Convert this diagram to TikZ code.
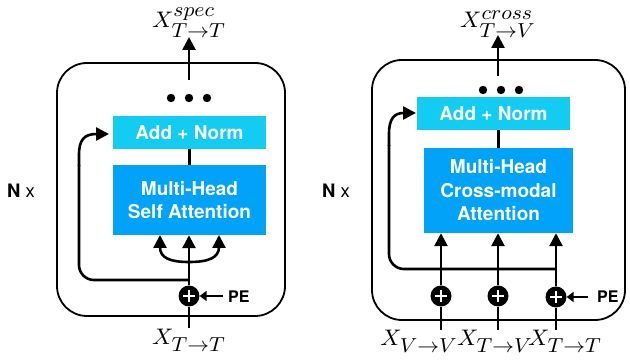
\documentclass[tikz,border=0pt]{standalone}
\usepackage{fontspec}
\setsansfont{TeX Gyre Heros}
\usetikzlibrary{arrows.meta}
\DeclareMathSizes{10}{10}{9}{7}
\definecolor{addc}{RGB}{18,204,242}
\definecolor{mhc}{RGB}{0,163,247}
\newcommand{\boxfont}{\sffamily\bfseries\fontsize{19}{23.5}\selectfont}
\begin{document}
\begin{tikzpicture}[x=1pt,y=-1pt,
  outerbox/.style={draw, line width=1.8pt, rounded corners=30pt, inner sep=0pt},
  addbox/.style={fill=addc, text=white, font=\boxfont, inner sep=0pt, minimum height=33pt},
  mhbox/.style={fill=mhc, text=white, font=\boxfont, align=center, inner sep=0pt},
  plusc/.style={circle, fill=black, minimum size=21pt, inner sep=0pt},
  wire/.style={line width=2.6pt},
  arr/.style={line width=2.6pt, -{Triangle[length=13pt,width=13pt]}},
  darr/.style={line width=2.6pt, {Triangle[length=13pt,width=13pt]}-{Triangle[length=13pt,width=13pt]}},
  pearr/.style={line width=2.2pt, -{Triangle[length=7pt,width=10pt]}},
  lbl/.style={font=\sffamily\bfseries\fontsize{16}{18}\selectfont, inner sep=0pt, anchor=base west},
  nlbl/.style={font=\sffamily\fontsize{18.5}{20}\selectfont, inner sep=0pt, anchor=base west},
  mlbl/.style={font=\fontsize{10}{12}\selectfont, inner sep=0pt, anchor=base, xscale=2.35, yscale=2.25, transform shape}
]
\useasboundingbox (0,0) rectangle (630,363);

% ---------------- left panel ----------------
\node[outerbox, minimum width=228pt, minimum height=253pt] (Lbox) at (171,189.5) {};
\node[addbox, minimum width=153pt] (Ladd) at (189.5,132.5) {Add + Norm};
\node[mhbox, minimum width=153pt, minimum height=70pt] (Lmh) at (189.5,200) {Multi-Head\\Self Attention};
\node[plusc] (Lp) at (189,296) {};
\draw[white, line width=2.4pt] (183,296) -- (195,296) (189,290) -- (189,302);
\node[nlbl] (LN) at (7,198) {\textbf{N} x};
\node[mlbl] (Lout) at (189,28) {$X^{spec}_{T\rightarrow T}$};
\node[mlbl] (Lin) at (189,345) {$X_{T\rightarrow T}$};
\node[lbl] (LPE) at (228,303) {PE};
\coordinate (Linb) at (189,328);
\coordinate (Lr) at (189,280);
\coordinate (Lbr) at (189,262);
\coordinate (Lk) at (160,235);
\coordinate (Lv) at (219,235);
\coordinate (Lres) at (109,134);
\coordinate (Lo1) at (189,80);
\coordinate (Lo2) at (189,37);
\coordinate (Lpe1) at (223,296);
\foreach \x in {171,189,207} \fill (\x,98) circle (4.2pt);
\draw[wire] (Linb) -- (Lp.south);
\draw[arr] (Lp.north) -- (Lp.north |- Lmh.south);
\draw[darr] (Lk) -- (160,247) .. controls (160,258) and (170,262) .. (Lbr)
  .. controls (208,262) and (219,258) .. (219,247) -- (Lv);
\draw[wire, rounded corners=15pt] (Lr) -- (79,280) -- (79,165);
\draw[arr] (79,166) -- (79,155) .. controls (79,140) and (84,134) .. (Lres);
\draw[wire] (Ladd.south) -- (Ladd.south |- Lmh.north);
\draw[arr] (Lo1) -- (Lo2);
\draw[pearr] (Lpe1) -- (Lp.east);

% ---------------- right panel ----------------
\node[outerbox, minimum width=253pt, minimum height=260pt] (Rbox) at (498.5,190) {};
\node[addbox, minimum width=153pt] (Radd) at (493.5,113.5) {Add + Norm};
\node[mhbox, minimum width=149pt, minimum height=85pt] (Rmh) at (498.5,190.5) {Multi-Head\\Cross-modal\\Attention};
\node[plusc] (Rp1) at (441,296) {};
\node[plusc] (Rp2) at (498,296) {};
\node[plusc] (Rp3) at (556,297) {};
\foreach \x/\y in {441/296,498/296,556/297}
  \draw[white, line width=2.4pt] (\x-6,\y) -- (\x+6,\y) (\x,\y-6) -- (\x,\y+6);
\node[nlbl] (RN) at (322,198) {\textbf{N} x};
\node[mlbl] (Rout) at (498,28) {$X^{cross}_{T\rightarrow V}$};
\node[mlbl] (Rin1) at (419,346) {$X_{V\rightarrow V}$};
\node[mlbl] (Rin2) at (495,346) {$X_{T\rightarrow V}$};
\node[mlbl] (Rin3) at (565,346) {$X_{T\rightarrow T}$};
\node[lbl] (RPE) at (597,303) {PE};
\coordinate (Ri1) at (441,330);
\coordinate (Ri2) at (498,330);
\coordinate (Ri3) at (556,330);
\coordinate (Rr) at (556,269);
\coordinate (Rres) at (416,113);
\coordinate (Ro1) at (498,76);
\coordinate (Ro2) at (498,35);
\coordinate (Rpe1) at (588,297);
\foreach \x in {483,501,519} \fill (\x,90) circle (4.2pt);
\draw[wire] (Ri1) -- (Rp1.south);
\draw[wire] (Ri2) -- (Rp2.south);
\draw[wire] (Ri3) -- (Rp3.south);
\draw[arr] (Rp1.north) -- (Rp1.north |- Rmh.south);
\draw[arr] (Rp2.north) -- (Rp2.north |- Rmh.south);
\draw[arr] (Rp3.north) -- (Rp3.north |- Rmh.south);
\draw[wire, rounded corners=15pt] (Rr) -- (389,269) -- (389,145);
\draw[arr] (389,146) -- (389,134) .. controls (389,119) and (394,113) .. (Rres);
\draw[wire] (Radd.south -| Rmh.north) -- (Rmh.north);
\draw[arr] (Ro1) -- (Ro2);
\draw[pearr] (Rpe1) -- (Rp3.east);
\end{tikzpicture}
\end{document}
